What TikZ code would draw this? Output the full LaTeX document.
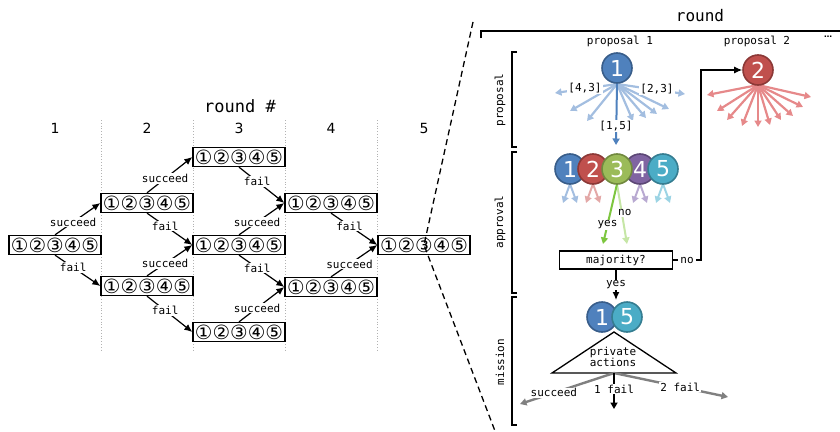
\documentclass[tikz,border=0pt]{standalone}
\usepackage{fontspec}
\setmainfont{DejaVu Sans}
\newfontfamily\dvsans{DejaVu Sans}
\newfontfamily\dvmono{DejaVu Sans Mono}
\usetikzlibrary{arrows.meta}
\definecolor{cblue}{HTML}{4F81BD}
\definecolor{cblueD}{HTML}{385D8A}
\definecolor{cred}{HTML}{C0504D}
\definecolor{credD}{HTML}{8C3836}
\definecolor{cgreen}{HTML}{9BBB59}
\definecolor{cgreenD}{HTML}{71893F}
\definecolor{cpurple}{HTML}{8064A2}
\definecolor{cpurpleD}{HTML}{5C4776}
\definecolor{cteal}{HTML}{4BACC6}
\definecolor{ctealD}{HTML}{357D91}
\definecolor{lblue}{HTML}{A3BEE0}
\definecolor{lred}{HTML}{E6898A}
\definecolor{lred2}{HTML}{E3A8A7}
\definecolor{lpurple}{HTML}{B8A9D1}
\definecolor{lteal}{HTML}{9CD4E4}
\definecolor{ygreen}{HTML}{7DC63F}
\definecolor{ngreen}{HTML}{C6E6A6}
\definecolor{cgray}{HTML}{808080}
\begin{document}
\begin{tikzpicture}[x=1pt,y=-1pt,
  lbl/.style={font=\dvmono\fontsize{11}{13}\selectfont, fill=white, text=black, inner sep=1pt},
  txt/.style={font=\dvmono\fontsize{11}{13}\selectfont, text=black, inner sep=1pt},
  rbox/.style={draw, line width=1.3pt, fill=white, minimum width=92pt, minimum height=19pt, inner sep=0pt},
  arr/.style={-{Latex[length=8pt,width=7pt]}, line width=1.2pt},
  bub/.style={circle, minimum size=30pt, inner sep=0pt, line width=1.6pt, text=white, font=\dvsans\fontsize{22}{22}\selectfont},
  fan/.style={-{Triangle[length=6.5pt,width=7pt]}, line width=2.2pt},
  brk/.style={line width=1.2pt},
  coln/.style={font=\dvsans\fontsize{14}{16}\selectfont}
]
\useasboundingbox (0,0) rectangle (840,431);
\newcommand{\digs}{\resizebox{88pt}{!}{\dvsans ①②③④⑤}}
% ---------------- left part
\node[font=\dvmono\fontsize{17}{19}\selectfont] (rh) at (240,106) {round \#};
\node[coln] (c1) at (55,128) {1};
\node[coln] (c2) at (147,128) {2};
\node[coln] (c3) at (239,128) {3};
\node[coln] (c4) at (331,128) {4};
\node[coln] (c5) at (424,128) {5};
\foreach \xx in {101,193,285,377}
  \draw[gray!60, dotted, line width=0.8pt] (\xx,120) -- (\xx,352);
\node[rbox] (b1) at (55,245) {\digs};
\node[rbox] (b2u) at (147,203) {\digs};
\node[rbox] (b2d) at (147,286) {\digs};
\node[rbox] (b3u) at (239,157) {\digs};
\node[rbox] (b3m) at (239,245) {\digs};
\node[rbox] (b3d) at (239,332) {\digs};
\node[rbox] (b4u) at (331,203) {\digs};
\node[rbox] (b4d) at (331,287) {\digs};
\node[rbox] (b5) at (424,245) {\digs};
\draw[arr] (b1.north) -- node[lbl,pos=0.4]{succeed} (b2u.west);
\draw[arr] (b1.south) -- node[lbl,pos=0.4]{fail} (b2d.west);
\draw[arr] (b2u.north) -- node[lbl,pos=0.4]{succeed} (b3u.west);
\draw[arr] (b2u.south) -- node[lbl,pos=0.4]{fail} (b3m.west);
\draw[arr] (b2d.north) -- node[lbl,pos=0.4]{succeed} (b3m.west);
\draw[arr] (b2d.south) -- node[lbl,pos=0.4]{fail} (b3d.west);
\draw[arr] (b3u.south) -- node[lbl,pos=0.4]{fail} (b4u.west);
\draw[arr] (b3m.north) -- node[lbl,pos=0.4]{succeed} (b4u.west);
\draw[arr] (b3m.south) -- node[lbl,pos=0.4]{fail} (b4d.west);
\draw[arr] (b3d.north) -- node[lbl,pos=0.4]{succeed} (b4d.west);
\draw[arr] (b4u.south) -- node[lbl,pos=0.4]{fail} (b5.west);
\draw[arr] (b4d.north) -- node[lbl,pos=0.4]{succeed} (b5.west);
% zoom lines
\coordinate (zt) at (473,22);
\coordinate (zb) at (495,431);
\draw[dash pattern=on 6pt off 4pt, line width=1.3pt] (zt) -- (b5.center) -- (zb);
% ---------------- right part
\node[font=\dvmono\fontsize{16}{18}\selectfont] (rnd) at (700,16) {round};
\draw[brk] (481,38) -- (481,31) -- (840,31);
\node[txt] (pl1) at (620,41) {proposal 1};
\node[txt] (pl2) at (757,41) {proposal 2};
\node[font=\dvsans\bfseries\fontsize{8}{8}\selectfont, inner sep=0pt] (dots) at (828,37) {…};
% side brackets
\draw[brk] (517,52) -- (512,52) -- (512,147) -- (517,147);
\draw[brk] (517,152) -- (512,152) -- (512,293) -- (517,293);
\draw[brk] (517,297) -- (512,297) -- (512,425) -- (517,425);
\node[txt, rotate=90] (sl1) at (500,100) {proposal};
\node[txt, rotate=90] (sl2) at (500,222) {approval};
\node[txt, rotate=90] (sl3) at (500,362) {mission};
% proposal fans
\coordinate (f1) at (617,84);
\coordinate (f2) at (758,85);
\foreach \xx/\yy [count=\i] in {555/93,570/111,587/121,633/121,646/118,657/114,669/109,685/94}{
  \coordinate (bt\i) at (\xx,\yy);
  \draw[fan, lblue] (f1) -- (bt\i);
}
\foreach \xx/\yy [count=\i] in {707/95,717/111,727/120,742/126,758/127,770/125,781/120,793/116,803/107,811/97}{
  \coordinate (rt\i) at (\xx,\yy);
  \draw[fan, lred] (f2) -- (rt\i);
}
\coordinate (d15) at (616,145);
\draw[fan, cblue, line width=2pt] (f1) -- (d15);
\node[lbl] (l43) at (585,88) {[4,3]};
\node[lbl] (l23) at (657,89) {[2,3]};
\node[lbl] (l15) at (616,126) {[1,5]};
\node[bub, fill=cblue, draw=cblueD] (p1) at (617,68) {1};
\node[bub, fill=cred, draw=credD] (p2) at (758,70) {2};
% approval
\foreach \xx/\cc in {570/lblue,593/lred2,640/lpurple,663/lteal}{
  \coordinate (va) at (\xx,184);
  \coordinate (vl) at (\xx-7,203);
  \coordinate (vr) at (\xx+7,203);
  \draw[fan, \cc, line width=2pt] (va) -- (vl);
  \draw[fan, \cc, line width=2pt] (va) -- (vr);
}
\coordinate (g3) at (617,184);
\coordinate (gy) at (603,244);
\coordinate (gn) at (627,244);
\draw[fan, ngreen, line width=2pt] (g3) -- node[lbl, pos=0.48, xshift=3pt]{no} (gn);
\draw[fan, ygreen, line width=2pt] (g3) -- node[lbl, pos=0.68]{yes} (gy);
\node[bub, fill=cblue, draw=cblueD] (a1) at (570,169) {1};
\node[bub, fill=cred, draw=credD] (a2) at (593,169) {2};
\node[bub, fill=cpurple, draw=cpurpleD] (a4) at (640,169) {4};
\node[bub, fill=cteal, draw=ctealD] (a5) at (663,169) {5};
\node[bub, fill=cgreen, draw=cgreenD] (a3) at (617,169) {3};
\node[draw, line width=1.2pt, minimum width=113pt, minimum height=18pt, inner sep=0pt, font=\dvmono\fontsize{11}{13}\selectfont] (maj) at (616,260) {majority?};
\coordinate (nc) at (701,260);
\draw[arr, line width=1.2pt] (maj.east) -- node[lbl, inner sep=2pt]{no} (nc) -- (701,70) -- (p2.west);
\coordinate (my) at (616,300);
\draw[arr, line width=1.3pt] (maj.south) -- node[lbl]{yes} (my);
% mission
\node[bub, fill=cblue, draw=cblueD] (m1) at (602,317) {1};
\node[bub, fill=cteal, draw=ctealD] (m5) at (627,317) {5};
\coordinate (ta) at (614,332);
\coordinate (tl) at (552,373);
\coordinate (tr) at (676,373);
\coordinate (tc) at (614,373);
\draw[line width=1.3pt] (ta) -- (tl) -- (tr) -- cycle;
\node[txt, align=center, font=\dvmono\fontsize{11}{11.5}\selectfont] (pa) at (613,357) {private\\actions};
\coordinate (os) at (520,404);
\coordinate (of) at (614,409);
\coordinate (o2) at (728,397);
\draw[fan, cgray, line width=2.4pt] (tc) -- node[lbl, pos=0.64]{succeed} (os);
\draw[fan, cgray, line width=2.4pt] (tc) -- node[lbl, pos=0.58]{2 fail} (o2);
\draw[fan, black, line width=2pt] (tc) -- node[lbl, pos=0.45]{1 fail} (of);
\end{tikzpicture}
\end{document}
